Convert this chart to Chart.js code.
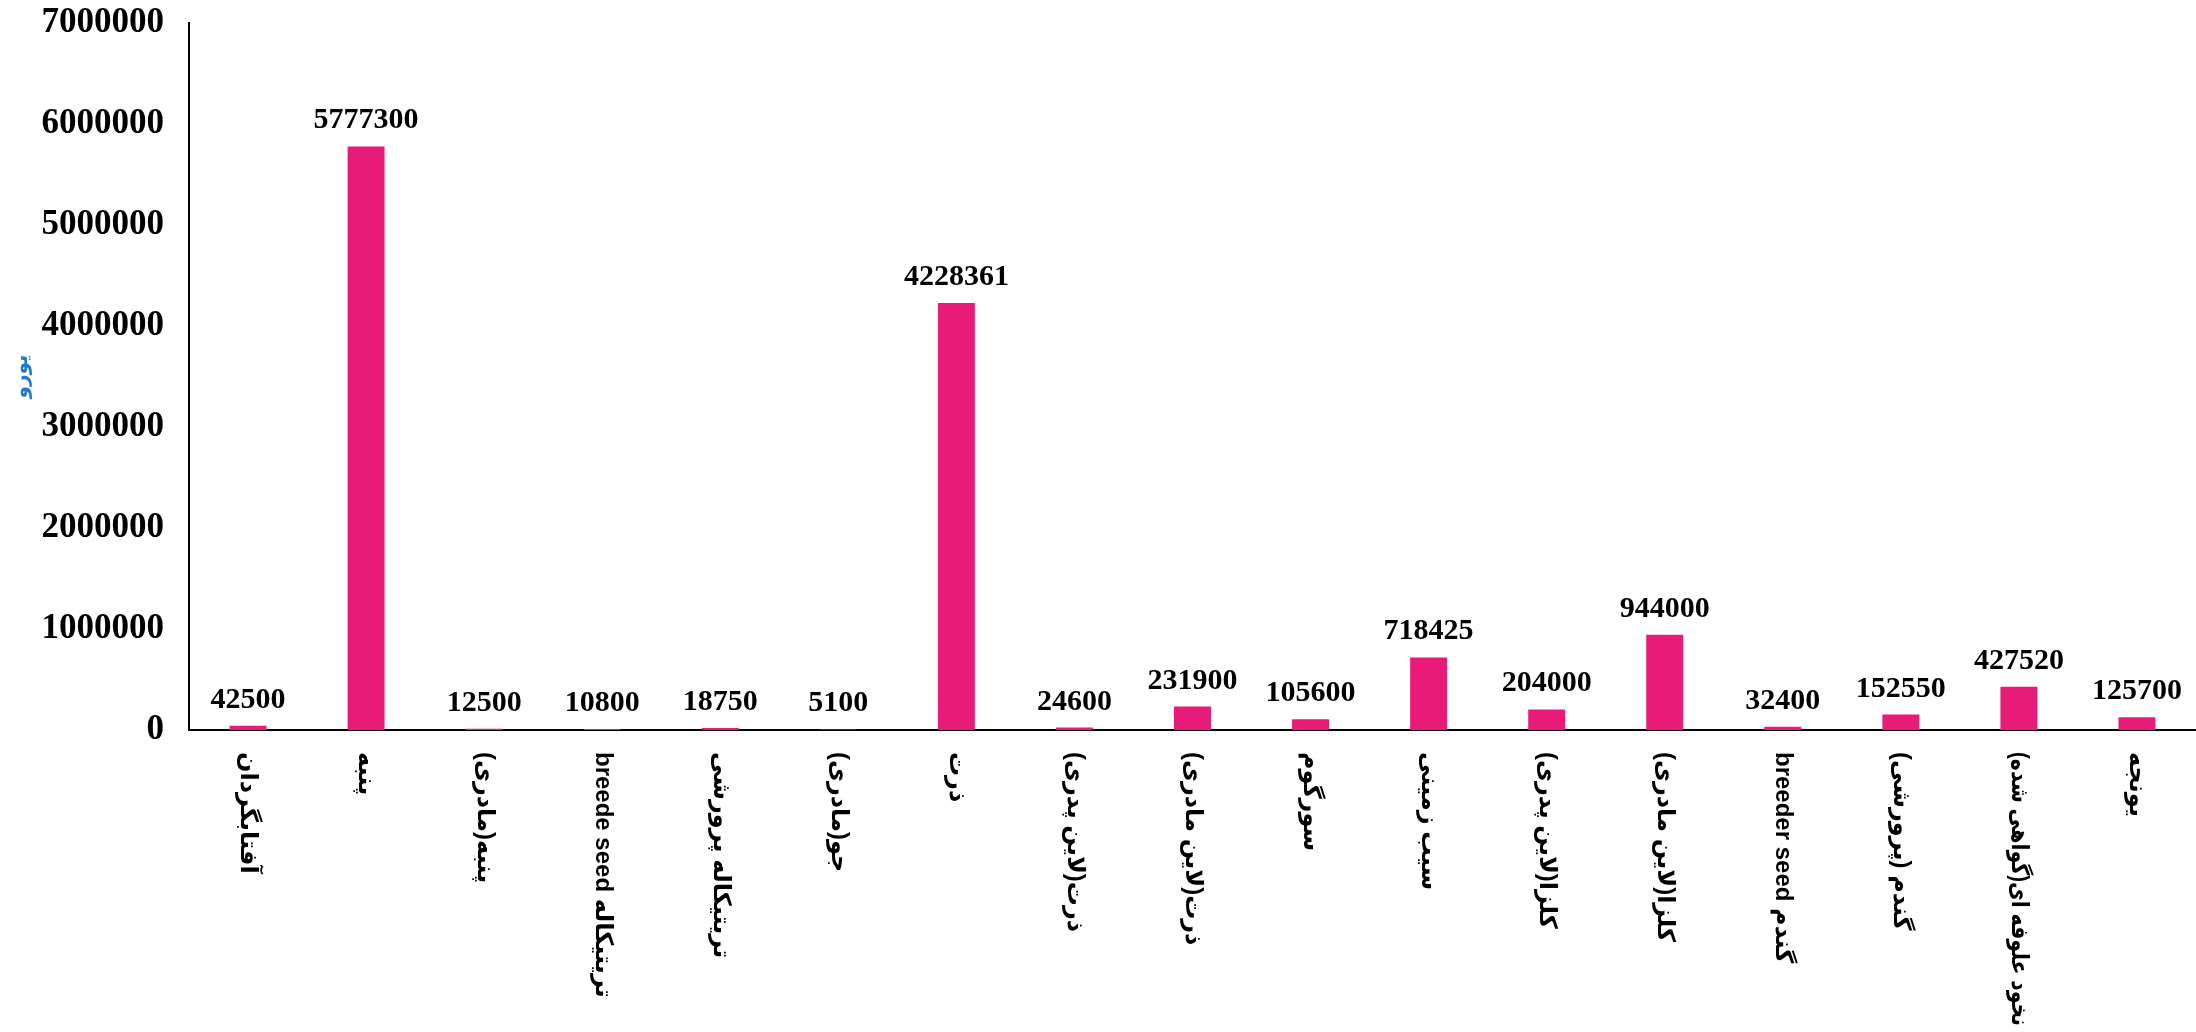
<!DOCTYPE html>
<html lang="fa">
<head>
<meta charset="utf-8">
<title>نمودار</title>
<script src="https://cdn.jsdelivr.net/npm/chart.js@4.4.0/dist/chart.umd.min.js"></script>
<style>
    html, body { margin: 0; padding: 0; background: #ffffff; }
    #chart { display: block; }
</style>
</head>
<body>
<canvas id="chart" width="2196" height="1032"></canvas>
<script>
// Dados do gráfico
const categories = [
    'آفتابگردان',
    'پنبه',
    'پنبه(مادری)',
    'تریتیکاله breede seed',
    'تریتیکاله پرورشی',
    'جو(مادری)',
    'ذرت',
    'ذرت(لاین پدری)',
    'ذرت(لاین مادری)',
    'سورگوم',
    'سیب زمینی',
    'کلزا(لاین پدری)',
    'کلزا(لاین مادری)',
    'گندم breeder seed',
    'گندم (پرورشی)',
    'نخود علوفه ای(گواهی شده)',
    'یونجه'
];
const values = [42500, 5777300, 12500, 10800, 18750, 5100, 4228361, 24600, 231900,
    105600, 718425, 204000, 944000, 32400, 152550, 427520, 125700];
const yTicks = [0, 1000000, 2000000, 3000000, 4000000, 5000000, 6000000, 7000000];
const yTitle = 'یورو';

const barColor = '#E81B78';
const numberFont = "bold 30px 'Liberation Serif', 'Times New Roman', serif";
const labelFont = "bold 24px 'Liberation Sans', 'DejaVu Sans', sans-serif";

// Valores acima das barras
const valueLabels = {
    id: 'valueLabels',
    afterDatasetsDraw(chart) {
        const ctx = chart.ctx;
        const meta = chart.getDatasetMeta(0);
        ctx.save();
        ctx.font = numberFont;
        ctx.fillStyle = '#000000';
        ctx.textAlign = 'center';
        ctx.textBaseline = 'alphabetic';
        meta.data.forEach((bar, i) => {
            ctx.fillText(String(values[i]), bar.x, bar.y - 18);
        });
        ctx.restore();
    }
};

// Rótulos das categorias, girados no sentido horário
const categoryLabels = {
    id: 'categoryLabels',
    afterDraw(chart) {
        const ctx = chart.ctx;
        const x = chart.scales.x;
        const top = x.top + 22;
        const room = chart.height - top - 6;
        ctx.save();
        ctx.font = labelFont;
        ctx.fillStyle = '#000000';
        ctx.direction = 'rtl';
        ctx.textAlign = 'left';
        ctx.textBaseline = 'middle';
        categories.forEach((label, i) => {
            const w = ctx.measureText(label).width;
            ctx.save();
            ctx.translate(x.getPixelForValue(i), top);
            ctx.rotate(Math.PI / 2);
            // rótulo longo demais: comprime para caber na tela
            if (w > room) {
                ctx.scale(room / w, 1);
            }
            ctx.fillText(label, 0, 0);
            ctx.restore();
        });
        ctx.restore();
    }
};

const ctx = document.getElementById('chart').getContext('2d');
new Chart(ctx, {
    type: 'bar',
    data: {
        labels: categories,
        datasets: [{
            data: values,
            backgroundColor: barColor,
            borderWidth: 0,
            categoryPercentage: 1,
            barPercentage: 0.313
        }]
    },
    options: {
        responsive: false,
        animation: false,
        devicePixelRatio: 1,
        layout: {
            padding: { top: 23, right: 0, bottom: 302, left: 0 }
        },
        plugins: {
            legend: { display: false },
            tooltip: { enabled: false }
        },
        scales: {
            x: {
                grid: { display: false, drawTicks: false },
                border: { display: true, color: '#000000', width: 2 },
                ticks: { display: false }
            },
            y: {
                min: 0,
                max: 7000000,
                afterBuildTicks: function (scale) {
                    scale.ticks = yTicks.map(v => ({ value: v }));
                },
                afterFit: function (scale) {
                    scale.width = 189;
                },
                // tickLength só reserva o espaço, a grade não é desenhada
                grid: { display: false, drawTicks: true, tickLength: 25 },
                border: { display: true, color: '#000000', width: 2 },
                ticks: {
                    padding: 0,
                    color: '#000000',
                    font: { family: "'Liberation Serif', 'Times New Roman', serif", size: 35, weight: 'bold' },
                    callback: function (value) {
                        return String(value);
                    }
                },
                title: {
                    display: true,
                    text: yTitle,
                    color: '#1F7BCF',
                    padding: { top: 10, bottom: 0 },
                    font: { family: "'DejaVu Sans', sans-serif", size: 20, weight: 'bold' }
                }
            }
        }
    },
    plugins: [valueLabels, categoryLabels]
});
</script>
</body>
</html>
